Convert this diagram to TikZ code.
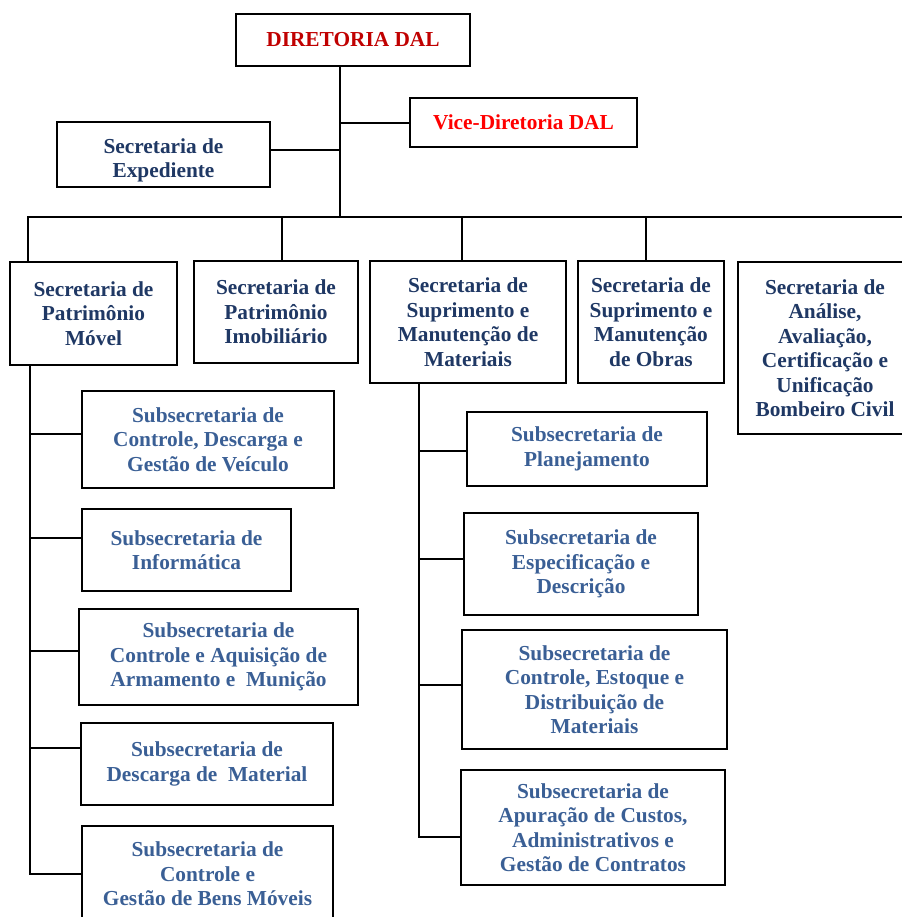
\documentclass[tikz,border=0pt]{standalone}
\usepackage{fontspec}
\setmainfont{Liberation Serif}
\definecolor{dred}{HTML}{C00000}
\definecolor{bred}{HTML}{FF0000}
\definecolor{navy}{HTML}{1F3864}
\definecolor{sblue}{HTML}{3A5F95}
\tikzset{
  box/.style={draw=black, line width=1.2pt, align=center, inner sep=0pt,
    font=\bfseries\fontsize{12.8}{14.7}\selectfont},
  conn/.style={draw=black, line width=1.2pt}
}
\newcommand{\bxn}[7]{\node[box,text=#6,minimum width={(#4-#2)*0.6pt},minimum height={(#5-#3)*0.6pt}] (#1) at ({(#2+#4)/2},{(#3+#5)/2}) {#7};}
\begin{document}
\begin{tikzpicture}[x=0.6pt,y=-0.6pt]
\useasboundingbox (0,0) rectangle (901,917);
% top
\bxn{dir}{236}{14}{470}{66}{dred}{DIRETORIA DAL}
\bxn{vice}{410}{98}{637}{147}{bred}{Vice-Diretoria DAL}
\bxn{exp}{57}{122}{270}{187}{navy}{\rule{0pt}{16pt}Secretaria de\\Expediente}
% secretarias
\bxn{pm}{10}{262}{177}{365}{navy}{Secretaria de\\Patrimônio\\Móvel}
\bxn{pi}{194}{261}{358}{363}{navy}{Secretaria de\\Patrimônio\\Imobiliário}
\bxn{smm}{370}{261}{566}{383}{navy}{Secretaria de\\Suprimento e\\Manutenção de\\Materiais}
\bxn{smo}{578}{261}{724}{383}{navy}{Secretaria de\\Suprimento e\\Manutenção\\de Obras}
\bxn{ana}{738}{262}{912}{434}{navy}{Secretaria de\\Análise,\\Avaliação,\\Certificação e\\Unificação\\Bombeiro Civil}
% left subsecretarias
\bxn{s1}{82}{391}{334}{488}{sblue}{Subsecretaria de\\Controle, Descarga e\\Gestão de Veículo}
\bxn{s2}{82}{509}{291}{591}{sblue}{Subsecretaria de\\Informática}
\bxn{s3}{79}{609}{358}{705}{sblue}{Subsecretaria de\\Controle e Aquisição de\\Armamento e \ Munição}
\bxn{s4}{81}{723}{333}{805}{sblue}{Subsecretaria de\\Descarga de \ Material}
\bxn{s5}{82}{826}{333}{922}{sblue}{Subsecretaria de\\Controle e\\Gestão de Bens Móveis}
% right subsecretarias
\bxn{r1}{467}{412}{707}{486}{sblue}{Subsecretaria de\\Planejamento}
\bxn{r2}{464}{513}{698}{615}{sblue}{Subsecretaria de\\Especificação e\\Descrição}
\bxn{r3}{462}{630}{727}{749}{sblue}{Subsecretaria de\\Controle, Estoque e\\Distribuição de\\Materiais}
\bxn{r4}{461}{770}{725}{885}{sblue}{Subsecretaria de\\Apuração de Custos,\\Administrativos e\\Gestão de Contratos}
% connector coordinates
\coordinate (tj) at (340,217);
\coordinate (busL) at (28,217);
\coordinate (busR) at (905,217);
\coordinate (d2) at (282,217);
\coordinate (d3) at (462,217);
\coordinate (d4) at (646,217);
\coordinate (ls) at (30,365);
\coordinate (rs) at (419,383);
% connectors
\draw[conn] (tj |- dir.south) -- (tj);
\draw[conn] (vice.west) -- (vice.west -| tj);
\draw[conn] ([yshift=2.7pt]exp.east) -- ([yshift=2.7pt]exp.east -| tj);
\draw[conn] (busL) -- (busR);
\draw[conn] ([yshift=0.6pt]busL) -- (busL |- pm.north);
\draw[conn] (d2) -- (d2 |- pi.north);
\draw[conn] (d3) -- (d3 |- smm.north);
\draw[conn] (d4) -- (d4 |- smo.north);
% left spine
\draw[conn] (ls |- pm.south) -- (ls |- s5.west) -- (s5.west);
\draw[conn] ([yshift=3.6pt]s1.west) -- ([yshift=3.6pt]s1.west -| ls);
\draw[conn] ([yshift=7.5pt]s2.west) -- ([yshift=7.5pt]s2.west -| ls);
\draw[conn] ([yshift=3.6pt]s3.west) -- ([yshift=3.6pt]s3.west -| ls);
\draw[conn] ([yshift=9.6pt]s4.west) -- ([yshift=9.6pt]s4.west -| ls);
% right spine
\draw[conn] (rs |- smm.south) -- ([yshift=-5.7pt]rs |- r4.west) -- ([yshift=-5.7pt]r4.west);
\draw[conn] ([yshift=-1.2pt]r1.west) -- ([yshift=-1.2pt]r1.west -| rs);
\draw[conn] ([yshift=3pt]r2.west) -- ([yshift=3pt]r2.west -| rs);
\draw[conn] ([yshift=2.7pt]r3.west) -- ([yshift=2.7pt]r3.west -| rs);
\end{tikzpicture}
\end{document}
